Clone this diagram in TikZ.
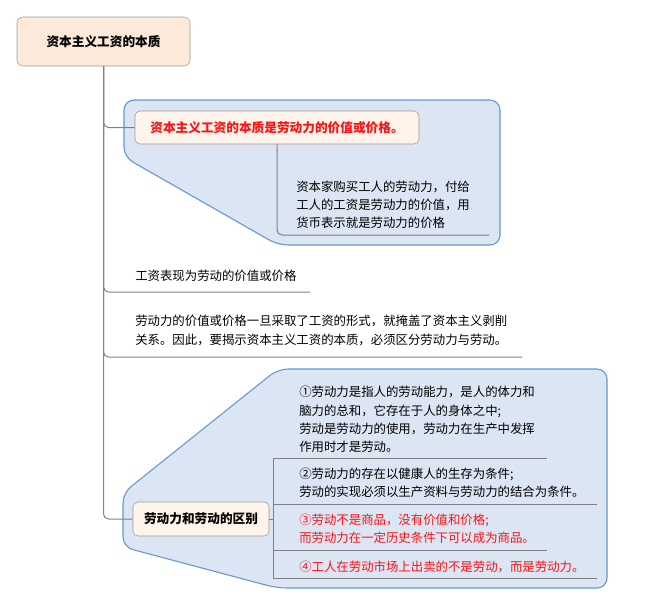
\documentclass[tikz,border=0pt]{standalone}
\usepackage{fontspec}
\setmainfont{Noto Sans CJK SC}
\usepackage{tikz}
\usetikzlibrary{positioning,calc}
\definecolor{calloutFill}{RGB}{219,229,243}
\definecolor{calloutLine}{RGB}{100,150,210}
\definecolor{rootFill}{RGB}{252,233,218}
\definecolor{topicFill}{RGB}{254,244,235}
\definecolor{boxLine}{RGB}{160,152,146}
\definecolor{branchColor}{RGB}{128,128,128}
\definecolor{noteRed}{RGB}{250,20,20}
\newcommand{\pxl}{0.75pt}
\tikzset{
    rootnode/.style={
        draw=boxLine,
        fill=rootFill,
        rounded corners=6*\pxl,
        minimum width=173*\pxl,
        minimum height=49*\pxl,
        inner sep=0pt,
        font=\fontsize{9.5}{12}\selectfont\bfseries
    },
    topicnode/.style={
        draw=boxLine,
        fill=topicFill,
        rounded corners=5*\pxl,
        minimum height=33*\pxl,
        inner sep=0pt,
        font=\fontsize{9.5}{12}\selectfont\bfseries
    },
    notetext/.style={
        anchor=west,
        inner sep=0pt,
        align=left,
        font=\fontsize{9.3}{13.7}\selectfont
    },
    callout/.style={
        draw=calloutLine,
        fill=calloutFill,
        line width=0.8pt,
        rounded corners=10*\pxl
    },
    branch/.style={
        draw=branchColor,
        line width=0.75pt,
        rounded corners=5*\pxl
    },
    underline/.style={
        draw=branchColor,
        line width=0.75pt
    }
}

\begin{document}
\begin{tikzpicture}[x=0.75pt, y=-0.75pt]
        \useasboundingbox (0,0) rectangle (645,604);

        % callout backgrounds
        \path[callout] (124,100) -- (500,100) -- (500,245) -- (278,245) -- (124,157) -- cycle;
        \path[callout] (278,369) -- (607,369) -- (607,588) -- (277,588) -- (123,547) -- (123,493) -- cycle;

        \node[rootnode] (root) at (103.5,41.5) {资本主义工资的本质};

        % first topic
        \node[topicnode, minimum width=284*\pxl, text=noteRed] (essence) at (277,127.5) {资本主义工资的本质是劳动力的价值或价格。};
        \node[notetext] (buy) at (296,205) {资本家购买工人的劳动力，付给\\工人的工资是劳动力的价值，用\\货币表示就是劳动力的价格};
        \coordinate (buyEnd) at (489,235);

        % plain topics
        \node[notetext] (wage) at (135,276) {工资表现为劳动的价值或价格};
        \coordinate (wageEnd) at (310,292);
        \node[notetext] (cover) at (135,330.5) {劳动力的价值或价格一旦采取了工资的形式，就掩盖了资本主义剥削\\关系。因此，要揭示资本主义工资的本质，必须区分劳动力与劳动。};
        \coordinate (coverEnd) at (522,357);

        % last topic
        \node[topicnode, minimum width=136*\pxl, minimum height=34*\pxl] (diff) at (201,519) {劳动力和劳动的区别};
        \coordinate (fork) at (273,519);
        \node[notetext] (diffA) at (299,419.5) {①劳动力是指人的劳动能力，是人的体力和\\脑力的总和，它存在于人的身体之中;\\劳动是劳动力的使用，劳动力在生产中发挥\\作用时才是劳动。};
        \coordinate (diffAEnd) at (547,458);
        \node[notetext] (diffB) at (299,482.5) {②劳动力的存在以健康人的生存为条件;\\劳动的实现必须以生产资料与劳动力的结合为条件。};
        \coordinate (diffBEnd) at (597,504);
        \node[notetext, text=noteRed] (diffC) at (299,529) {③劳动不是商品，没有价值和价格;\\而劳动力在一定历史条件下可以成为商品。};
        \coordinate (diffCEnd) at (547,550);
        \node[notetext, text=noteRed] (diffD) at (299,567) {④工人在劳动市场上出卖的不是劳动，而是劳动力。};
        \coordinate (diffDEnd) at (597,578);

        % connectors
        \draw[branch] (root.south) |- (essence.west);
        \draw[branch] (root.south) |- (wageEnd);
        \draw[branch] (root.south) |- (coverEnd);
        \draw[branch] (root.south) |- (diff.west);
        \draw[branch] (essence.south) |- (buyEnd);
        \draw[underline] (diff.east) -- (fork);
        \draw[underline] (fork) |- (diffAEnd);
        \draw[underline] (fork) |- (diffBEnd);
        \draw[underline] (fork) |- (diffCEnd);
        \draw[underline] (fork) |- (diffDEnd);
    \end{tikzpicture}
\end{document}
